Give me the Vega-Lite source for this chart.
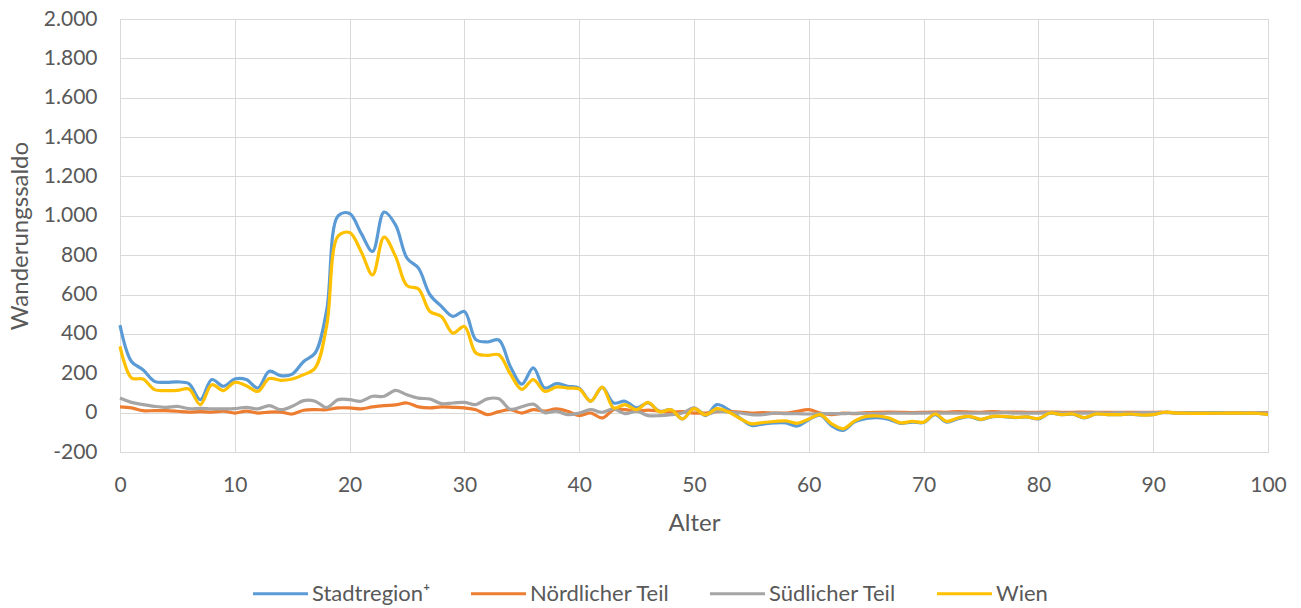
{
  "$schema": "https://vega.github.io/schema/vega-lite/v6.json",
  "width": 1148,
  "height": 433,
  "autosize": {"type": "none"},
  "padding": {"left": 120, "top": 19, "right": 33, "bottom": 156},
  "background": "white",
  "config": {
    "font": "Lato",
    "view": {"stroke": "#D9D9D9", "strokeWidth": 1},
    "axis": {
      "gridColor": "#D9D9D9", "gridWidth": 1, "domain": false, "ticks": false,
      "labelColor": "#595959", "labelFontSize": 21,
      "titleColor": "#595959", "titleFontSize": 24, "titleFontWeight": "normal"
    },
    "legend": {"labelColor": "#595959", "labelFontSize": 22}
  },
  "data": {"values": [
    {"a":0,"s":445,"n":29,"su":74,"w":337},
    {"a":1,"s":260,"n":24,"su":52,"w":176},
    {"a":2,"s":218,"n":10,"su":41,"w":171},
    {"a":3,"s":159,"n":10,"su":32,"w":117},
    {"a":4,"s":154,"n":10,"su":27,"w":112},
    {"a":5,"s":156,"n":7,"su":32,"w":113},
    {"a":6,"s":147,"n":3,"su":20,"w":120},
    {"a":7,"s":66,"n":5,"su":22,"w":41},
    {"a":8,"s":168,"n":3,"su":19,"w":142},
    {"a":9,"s":134,"n":8,"su":19,"w":112},
    {"a":10,"s":171,"n":-2,"su":20,"w":154},
    {"a":11,"s":168,"n":8,"su":27,"w":137},
    {"a":12,"s":125,"n":-2,"su":19,"w":108},
    {"a":13,"s":210,"n":3,"su":36,"w":173},
    {"a":14,"s":188,"n":3,"su":15,"w":164},
    {"a":15,"s":196,"n":-7,"su":32,"w":171},
    {"a":16,"s":260,"n":12,"su":61,"w":193},
    {"a":17,"s":303,"n":15,"su":58,"w":227},
    {"a":18,"s":520,"n":15,"su":26,"w":440},
    {"a":19,"s":1000,"n":24,"su":66,"w":897},
    {"a":20,"s":1012,"n":24,"su":66,"w":915},
    {"a":21,"s":912,"n":19,"su":58,"w":819},
    {"a":22,"s":819,"n":29,"su":83,"w":700},
    {"a":23,"s":1019,"n":36,"su":83,"w":892},
    {"a":24,"s":954,"n":39,"su":113,"w":794},
    {"a":25,"s":785,"n":49,"su":91,"w":645},
    {"a":26,"s":734,"n":29,"su":74,"w":628},
    {"a":27,"s":599,"n":24,"su":69,"w":514},
    {"a":28,"s":540,"n":29,"su":46,"w":489},
    {"a":29,"s":489,"n":27,"su":49,"w":404},
    {"a":30,"s":514,"n":24,"su":52,"w":438},
    {"a":31,"s":371,"n":15,"su":41,"w":303},
    {"a":32,"s":359,"n":-10,"su":70,"w":291},
    {"a":33,"s":369,"n":5,"su":70,"w":294},
    {"a":34,"s":235,"n":15,"su":17,"w":197},
    {"a":35,"s":145,"n":-2,"su":30,"w":118},
    {"a":36,"s":227,"n":15,"su":43,"w":168},
    {"a":37,"s":125,"n":8,"su":0,"w":108},
    {"a":38,"s":147,"n":19,"su":7,"w":130},
    {"a":39,"s":134,"n":7,"su":-10,"w":125},
    {"a":40,"s":125,"n":-15,"su":-2,"w":120},
    {"a":41,"s":58,"n":-2,"su":15,"w":58},
    {"a":42,"s":128,"n":-27,"su":2,"w":130},
    {"a":43,"s":49,"n":15,"su":19,"w":24},
    {"a":44,"s":58,"n":15,"su":-5,"w":41},
    {"a":45,"s":24,"n":7,"su":7,"w":15},
    {"a":46,"s":49,"n":13,"su":-15,"w":52},
    {"a":47,"s":7,"n":7,"su":-15,"w":4},
    {"a":48,"s":15,"n":2,"su":-10,"w":15},
    {"a":49,"s":-32,"n":5,"su":-2,"w":-32},
    {"a":50,"s":22,"n":-2,"su":24,"w":20},
    {"a":51,"s":-15,"n":-2,"su":-10,"w":-12},
    {"a":52,"s":41,"n":5,"su":7,"w":20},
    {"a":53,"s":15,"n":7,"su":2,"w":3},
    {"a":54,"s":-27,"n":3,"su":-2,"w":-30},
    {"a":55,"s":-65,"n":-2,"su":-10,"w":-57},
    {"a":56,"s":-58,"n":0,"su":-10,"w":-50},
    {"a":57,"s":-52,"n":-2,"su":-2,"w":-45},
    {"a":58,"s":-52,"n":-2,"su":-5,"w":-42},
    {"a":59,"s":-68,"n":7,"su":-5,"w":-54},
    {"a":60,"s":-36,"n":15,"su":-7,"w":-32},
    {"a":61,"s":-13,"n":-2,"su":-5,"w":-10},
    {"a":62,"s":-67,"n":-10,"su":-5,"w":-57},
    {"a":63,"s":-90,"n":-2,"su":-5,"w":-82},
    {"a":64,"s":-46,"n":-5,"su":-3,"w":-42},
    {"a":65,"s":-30,"n":0,"su":-5,"w":-19},
    {"a":66,"s":-25,"n":2,"su":-5,"w":-17},
    {"a":67,"s":-34,"n":3,"su":-3,"w":-27},
    {"a":68,"s":-55,"n":2,"su":-3,"w":-52},
    {"a":69,"s":-48,"n":0,"su":-3,"w":-44},
    {"a":70,"s":-50,"n":2,"su":-2,"w":-48},
    {"a":71,"s":-10,"n":3,"su":-2,"w":-7},
    {"a":72,"s":-48,"n":2,"su":-2,"w":-44},
    {"a":73,"s":-31,"n":5,"su":-2,"w":-27},
    {"a":74,"s":-21,"n":3,"su":-2,"w":-19},
    {"a":75,"s":-36,"n":2,"su":-2,"w":-34},
    {"a":76,"s":-20,"n":5,"su":-2,"w":-19},
    {"a":77,"s":-20,"n":3,"su":0,"w":-19},
    {"a":78,"s":-25,"n":3,"su":-2,"w":-24},
    {"a":79,"s":-22,"n":2,"su":-2,"w":-22},
    {"a":80,"s":-32,"n":2,"su":-2,"w":-30},
    {"a":81,"s":-3,"n":3,"su":0,"w":-2},
    {"a":82,"s":-10,"n":2,"su":-2,"w":-10},
    {"a":83,"s":-8,"n":2,"su":-2,"w":-7},
    {"a":84,"s":-27,"n":3,"su":-2,"w":-25},
    {"a":85,"s":-7,"n":2,"su":0,"w":-7},
    {"a":86,"s":-10,"n":2,"su":-2,"w":-10},
    {"a":87,"s":-10,"n":2,"su":0,"w":-10},
    {"a":88,"s":-8,"n":2,"su":-2,"w":-7},
    {"a":89,"s":-12,"n":2,"su":0,"w":-12},
    {"a":90,"s":-10,"n":2,"su":0,"w":-10},
    {"a":91,"s":2,"n":2,"su":0,"w":2},
    {"a":92,"s":-2,"n":0,"su":0,"w":-2},
    {"a":93,"s":-2,"n":0,"su":0,"w":-3},
    {"a":94,"s":-4,"n":0,"su":0,"w":-4},
    {"a":95,"s":-3,"n":0,"su":0,"w":-3},
    {"a":96,"s":-3,"n":0,"su":0,"w":-3},
    {"a":97,"s":-2,"n":0,"su":0,"w":-2},
    {"a":98,"s":-3,"n":0,"su":0,"w":-3},
    {"a":99,"s":-3,"n":0,"su":0,"w":-3},
    {"a":100,"s":-10,"n":0,"su":-2,"w":-10}
  ]},
  "transform": [{"fold": ["s", "n", "su", "w"], "as": ["serie", "wert"]}],
  "mark": {"type": "line", "strokeWidth": 3.2, "interpolate": "catmull-rom"},
  "encoding": {
    "x": {
      "field": "a", "type": "quantitative",
      "scale": {"domain": [0, 100], "nice": false},
      "axis": {"values": [0,10,20,30,40,50,60,70,80,90,100], "title": "Alter", "labelPadding": 22, "titlePadding": 16, "labelFlush": false}
    },
    "y": {
      "field": "wert", "type": "quantitative",
      "scale": {"domain": [-200, 2000], "nice": false},
      "axis": {
        "values": [-200,0,200,400,600,800,1000,1200,1400,1600,1800,2000],
        "labelExpr": "replace(replace(format(datum.value, ','), ',', '.'), '\u2212', '-')",
        "title": "Wanderungssaldo", "labelPadding": 23, "titlePadding": 11
      }
    },
    "color": {
      "field": "serie", "type": "nominal",
      "scale": {"domain": ["s", "n", "su", "w"], "range": ["#5B9BD5", "#ED7D31", "#A5A5A5", "#FFC000"]},
      "legend": {
        "title": null, "orient": "none", "direction": "horizontal",
        "legendX": 131, "legendY": 545,
        "symbolType": "stroke", "symbolSize": 3025, "symbolStrokeWidth": 3.2,
        "labelOffset": 2, "columnPadding": 33,
        "labelExpr": "datum.value == 's' ? 'Stadtregion⁺' : datum.value == 'n' ? 'Nördlicher Teil' : datum.value == 'su' ? 'Südlicher Teil' : 'Wien'"
      }
    }
  }
}
